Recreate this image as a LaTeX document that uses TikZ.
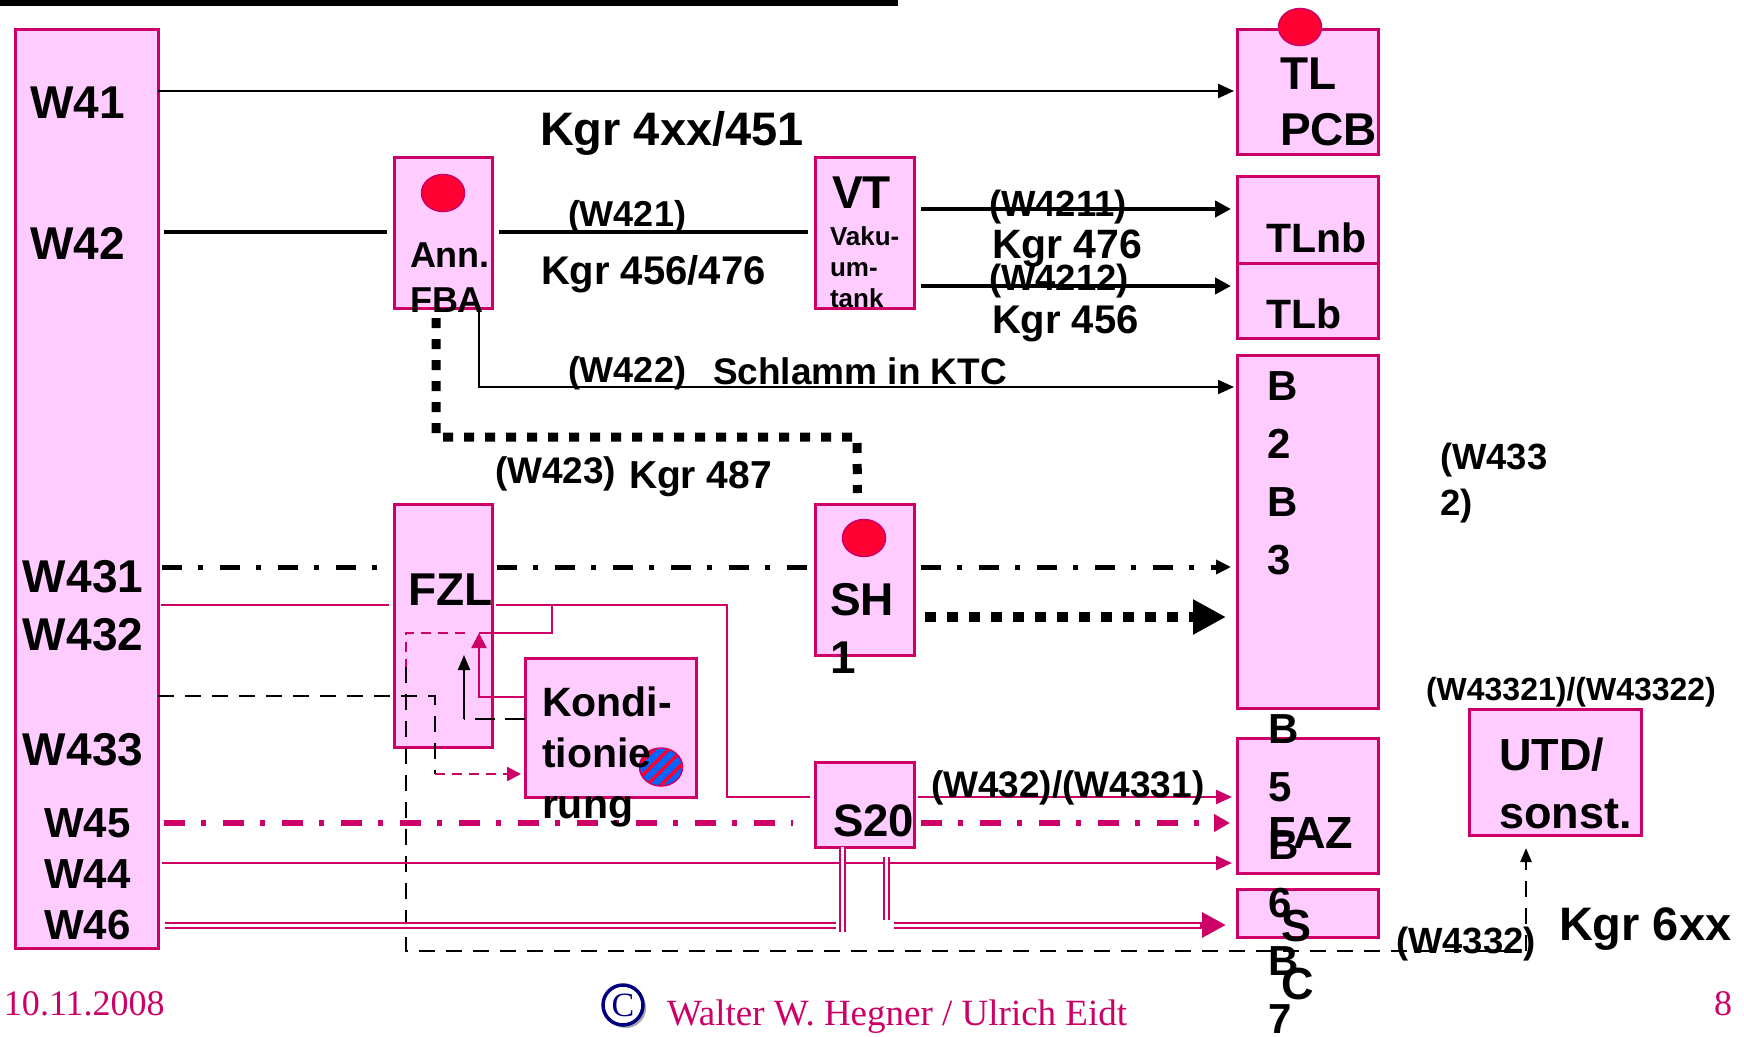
\documentclass[tikz,border=0pt]{standalone}
\usepackage{fontspec}
\setmainfont{Liberation Sans}
\newfontfamily\footfont{Liberation Serif}
\usetikzlibrary{shapes.geometric,arrows.meta,patterns.meta,shadows}

\definecolor{boxpink}{HTML}{FFCCFF}
\definecolor{linepink}{HTML}{CC0066}
\definecolor{dotred}{HTML}{FF0033}
\definecolor{hatchblue}{HTML}{0066FF}
\definecolor{copynavy}{HTML}{000080}

\newcommand{\setfs}[2]{\fontsize{#1}{#2}\selectfont\bfseries}

\tikzstyle{block} = [rectangle, draw=linepink, fill=boxpink, line width=3pt, inner sep=0pt, outer sep=0pt, anchor=north west]
\tikzstyle{lbl} = [inner sep=0pt, outer sep=0pt, anchor=base west]
\tikzstyle{mlbl} = [inner sep=0pt, outer sep=0pt, anchor=north west, align=left]
\tikzstyle{reddot} = [ellipse, draw=linepink, line width=1.5pt, fill=dotred, minimum width=43pt, minimum height=37pt, inner sep=0pt]
\tikzstyle{hatchdot} = [ellipse, draw=linepink, line width=1.5pt, minimum width=43pt, minimum height=38pt, inner sep=0pt, preaction={fill=hatchblue}, pattern={Lines[angle=45,distance=10pt,line width=3.5pt]}, pattern color=dotred]
\tikzstyle{arrow} = [draw, line width=2.5pt, -{Triangle[length=16pt,width=14pt]}]
\tikzstyle{boldline} = [draw, line width=4.5pt]
\tikzstyle{boldarrow} = [draw, line width=4.5pt, -{Triangle[length=16pt,width=16pt]}]
\tikzstyle{chain} = [draw, line width=5pt, dash pattern=on 20pt off 16pt on 5pt off 17pt]
\tikzstyle{squares} = [draw, line width=9pt, dash pattern=on 10pt off 11pt]
\tikzstyle{pline} = [draw=linepink, line width=2.5pt]
\tikzstyle{parrow} = [pline, -{Triangle[length=16pt,width=14pt]}]
\tikzstyle{pchain} = [draw=linepink, line width=5.5pt, dash pattern=on 21pt off 16pt on 5pt off 17pt]
\tikzstyle{pdash} = [draw=linepink, line width=2.5pt, dash pattern=on 10pt off 7pt]
\tikzstyle{bdash} = [draw, line width=2.5pt, dash pattern=on 16pt off 11pt]
\tikzstyle{dbl} = [draw=linepink, line width=2pt, double=white, double distance=3pt]

\begin{document}
\begin{tikzpicture}[x=1pt, y=-1pt]
    \useasboundingbox (0,0) rectangle (1744,1036);
    \fill (0,0) rectangle (898,6);
    % Place nodes
    \node [block, minimum width=143pt, minimum height=919pt] (wbox) at (15,29) {};
    \node [block, minimum width=141pt, minimum height=125pt] (tl) at (1237,29) {};
    \node [block, minimum width=141pt, minimum height=87pt] (tlnb) at (1237,176) {};
    \node [block, minimum width=141pt, minimum height=75pt] (tlb) at (1237,263) {};
    \node [block, minimum width=141pt, minimum height=353pt] (b23) at (1237,355) {};
    \node [block, minimum width=141pt, minimum height=135pt] (b56) at (1237,738) {};
    \node [block, minimum width=141pt, minimum height=48pt] (bsc) at (1237,889) {};
    \node [block, minimum width=98pt, minimum height=151pt] (ann) at (394,157) {};
    \node [block, minimum width=99pt, minimum height=151pt] (vt) at (815,157) {};
    \node [block, minimum width=98pt, minimum height=243pt] (fzl) at (394,504) {};
    \node [block, minimum width=99pt, minimum height=151pt] (sh) at (815,504) {};
    \node [block, minimum width=171pt, minimum height=139pt] (kond) at (525,658) {};
    \node [block, minimum width=99pt, minimum height=85pt] (s20) at (815,762) {};
    \node [block, minimum width=172pt, minimum height=126pt] (utd) at (1469,709) {};
    \node [reddot] (tldot) at (1300,27) {};
    \node [reddot] (anndot) at (443,193) {};
    \node [reddot] (shdot) at (864,538) {};
    \node [hatchdot] (konddot) at (661,767) {};
    % Levels and bends
    \coordinate (r41) at (0,91);
    \coordinate (r42) at (0,232);
    \coordinate (r4211) at (0,209);
    \coordinate (r4212) at (0,286);
    \coordinate (r422) at (0,387);
    \coordinate (c423) at (857,437);
    \coordinate (r431) at (0,567);
    \coordinate (rsh) at (0,617);
    \coordinate (r432) at (0,605);
    \coordinate (c432) at (727,605);
    \coordinate (cb1) at (552,605);
    \coordinate (ckret) at (479,633);
    \coordinate (rk1) at (0,697);
    \coordinate (rk2) at (0,719);
    \coordinate (cbk) at (464,719);
    \coordinate (cbt) at (464,655);
    \coordinate (r433) at (0,696);
    \coordinate (c433) at (435,774);
    \coordinate (cp1) at (465,633);
    \coordinate (cp2) at (406,633);
    \coordinate (cp3) at (406,667);
    \coordinate (c4332) at (1526,951);
    \coordinate (r4331) at (0,797);
    \coordinate (r45) at (0,823);
    \coordinate (r44) at (0,863);
    \coordinate (r46) at (0,925);
    \coordinate (cd1) at (836,925);
    \coordinate (cd2) at (842,932);
    \coordinate (cd3) at (886,857);
    \coordinate (cd4) at (886,920);
    \coordinate (cd5) at (894,925);
    % Draw edges
    \path [arrow, shorten >=3pt] (wbox.east |- r41) -- (tl.west |- r41);
    \path [boldline, shorten <=6pt, shorten >=7pt] (wbox.east |- r42) -- (ann.west |- r42);
    \path [boldline, shorten <=7pt, shorten >=7pt] (ann.east |- r42) -- (vt.west |- r42);
    \path [boldarrow, shorten <=7pt, shorten >=6pt] (vt.east |- r4211) -- (tlnb.west |- r4211);
    \path [boldarrow, shorten <=7pt, shorten >=6pt] (vt.east |- r4212) -- (tlb.west |- r4212);
    \path [arrow, line width=2pt, shorten <=2pt, shorten >=3pt] ([xshift=36pt]ann.south) |- (b23.west |- r422);
    \path [squares, shorten <=10pt, shorten >=11pt] ([xshift=-7pt]ann.south) |- (c423) -- ([xshift=-7pt]sh.north);
    \path [chain, shorten <=4pt, shorten >=11pt] (wbox.east |- r431) -- (fzl.west |- r431);
    \path [chain, shorten <=5pt, shorten >=5pt] (fzl.east |- r431) -- (sh.west |- r431);
    \path [chain, -{Triangle[length=15pt,width=14pt]}, shorten <=7pt, shorten >=6pt] (sh.east |- r431) -- (b23.west |- r431);
    \path [draw, line width=10pt, dash pattern=on 11pt off 11pt, -{Triangle[length=33pt,width=33pt]}, shorten <=11pt, shorten >=11pt] (sh.east |- rsh) -- (b23.west |- rsh);
    \path [pline, shorten <=3pt, shorten >=5pt] (wbox.east |- r432) -- (fzl.west |- r432);
    \path [pline, shorten <=4pt, shorten >=5pt] (fzl.east |- r432) -- (c432) |- (s20.west |- r4331);
    \path [pline] (cb1) |- (ckret);
    \path [parrow, -{Triangle[length=15pt,width=15pt]}] (kond.west |- rk1) -| (ckret);
    \path [bdash, dash pattern=on 20pt off 10pt] (kond.west |- rk2) -- (cbk);
    \path [arrow, line width=2pt, -{Triangle[length=15pt,width=12pt]}] (cbk) -- (cbt);
    \path [bdash] (wbox.east |- r433) -| (c433);
    \path [pdash, -{Triangle[length=14pt,width=14pt]}, shorten >=4pt] (c433) -- (kond.west |- c433);
    \path [pdash] (cp1) -- (cp2) -- (cp3);
    \path [bdash, -{Triangle[length=14pt,width=11pt]}, shorten >=13pt] (cp3) |- (c4332) -- ([xshift=-29pt]utd.south);
    \path [pchain, shorten <=6pt, shorten >=22pt] (wbox.east |- r45) -- (s20.west |- r45);
    \path [pchain, -{Triangle[length=16pt,width=17pt]}, shorten <=7pt, shorten >=7pt] (s20.east |- r45) -- (b56.west |- r45);
    \path [parrow, shorten <=4pt, shorten >=5pt] (s20.east |- r4331) -- (b56.west |- r4331);
    \path [parrow, shorten <=4pt, shorten >=5pt] (wbox.east |- r44) -- (b56.west |- r44);
    \path [dbl, shorten <=7pt] (wbox.east |- r46) -- (cd1);
    \path [dbl] ([xshift=-22.5pt]s20.south) -- (cd2);
    \path [dbl] (cd3) -- (cd4);
    \path [draw=linepink, line width=7pt, -{Triangle[length=24pt,width=24pt]}, shorten >=11pt, postaction={draw=white, line width=3pt, -, shorten >=37pt}] (cd5) -- (bsc.west |- r46);
    % Texts
    \node [lbl, font=\setfs{46}{56}] (tw41) at (30,118) {W41};
    \node [lbl, font=\setfs{46}{56}] (tw42) at (30,259) {W42};
    \node [lbl, font=\setfs{46}{56}] (tw431) at (23,592) {W431};
    \node [lbl, font=\setfs{46}{56}] (tw432) at (23,650) {W432};
    \node [lbl, font=\setfs{46}{56}] (tw433) at (23,765) {W433};
    \node [lbl, font=\setfs{42}{50}] (tw45) at (44,837) {W45};
    \node [lbl, font=\setfs{42}{50}] (tw44) at (44,888) {W44};
    \node [lbl, font=\setfs{42}{50}] (tw46) at (44,939) {W46};
    \node [lbl, font=\setfs{47}{56}] (kgr4xx) at (540,145) {Kgr 4xx/451};
    \node [mlbl, font=\setfs{46}{56}] (tltext) at (1280,58) {TL\\PCB};
    \node [mlbl, font=\setfs{36}{45}] (anntext) at (410,243) {Ann.\\FBA};
    \node [lbl, font=\setfs{36}{44}] (tw421) at (568,226) {(W421)};
    \node [lbl, font=\setfs{40}{48}] (kgr456476) at (541,284) {Kgr 456/476};
    \node [lbl, font=\setfs{46}{56}] (vttext) at (832,208) {VT};
    \node [mlbl, font=\setfs{26}{31}] (vakutext) at (830,227) {Vaku-\\um-\\tank};
    \node [lbl, font=\setfs{36.5}{44}] (tw4211) at (989,216) {(W4211)};
    \node [lbl, font=\setfs{41}{48}] (kgr476) at (992,258) {Kgr 476};
    \node [lbl, font=\setfs{36.5}{44}] (tw4212) at (989,290) {(W4212)};
    \node [lbl, font=\setfs{40}{48}] (kgr456) at (992,333) {Kgr 456};
    \node [lbl, font=\setfs{41}{48}] (tlnbtext) at (1266,252) {TLnb};
    \node [lbl, font=\setfs{41}{48}] (tlbtext) at (1266,328) {TLb};
    \node [lbl, font=\setfs{36}{44}] (tw422) at (568,382) {(W422)};
    \node [lbl, font=\setfs{37}{44}] (schlamm) at (713,384) {Schlamm in KTC};
    \node [mlbl, font=\setfs{42}{57.7}] (b23text) at (1267,372) {B\\2\\B\\3};
    \node [mlbl, font=\setfs{36.5}{46}] (tw4332a) at (1440,443) {(W433\\2)};
    \node [lbl, font=\setfs{37}{44}] (tw423) at (495,483) {(W423)};
    \node [lbl, font=\setfs{39}{46}] (kgr487) at (629,488) {Kgr 487};
    \node [lbl, font=\setfs{46}{56}] (fzltext) at (408,605) {FZL};
    \node [mlbl, font=\setfs{46}{58}] (shtext) at (830,583) {SH\\1};
    \node [mlbl, font=\setfs{41}{51}] (kondtext) at (542,687) {Kondi-\\tionie\\rung};
    \node [lbl, font=\setfs{45.5}{56}] (s20text) at (833,836) {S20};
    \node [lbl, font=\setfs{37}{44}] (tw4331) at (931,797) {(W432)/(W4331)};
    \node [mlbl, font=\setfs{42}{58}] (b56text) at (1268,715) {B\\5\\B\\6\\B\\7};
    \node [lbl, font=\setfs{45}{54}] (faztext) at (1268,848) {FAZ};
    \node [mlbl, font=\setfs{45}{58}] (sctext) at (1281,910) {S\\C};
    \node [mlbl, font=\setfs{45}{58}] (utdtext) at (1499,738) {UTD/\\sonst.};
    \node [lbl, font=\setfs{32}{38}] (tw43321) at (1426,700) {(W43321)/(W43322)};
    \node [lbl, font=\setfs{36.5}{44}] (tw4332) at (1396,953) {(W4332)};
    \node [lbl, font=\setfs{47}{56}] (kgr6xx) at (1559,940) {Kgr 6xx};
    % Footer
    \node [lbl, font=\footfont\fontsize{36}{44}\selectfont, text=linepink] (date) at (4,1015) {10.11.2008};
    \node [circle, draw=copynavy, line width=3.5pt, fill=white, minimum size=40pt, inner sep=0pt, drop shadow={shadow xshift=3pt, shadow yshift=-3pt, fill=gray!70, opacity=1}, text=copynavy, font=\footfont\fontsize{34}{34}\selectfont] (copy) at (623,1005) {C};
    \node [lbl, font=\footfont\fontsize{37}{44}\selectfont, text=linepink] (authors) at (667,1025) {Walter W. Hegner / Ulrich Eidt};
    \node [lbl, font=\footfont\fontsize{36}{44}\selectfont, text=linepink] (page) at (1714,1015) {8};
\end{tikzpicture}
\end{document}
